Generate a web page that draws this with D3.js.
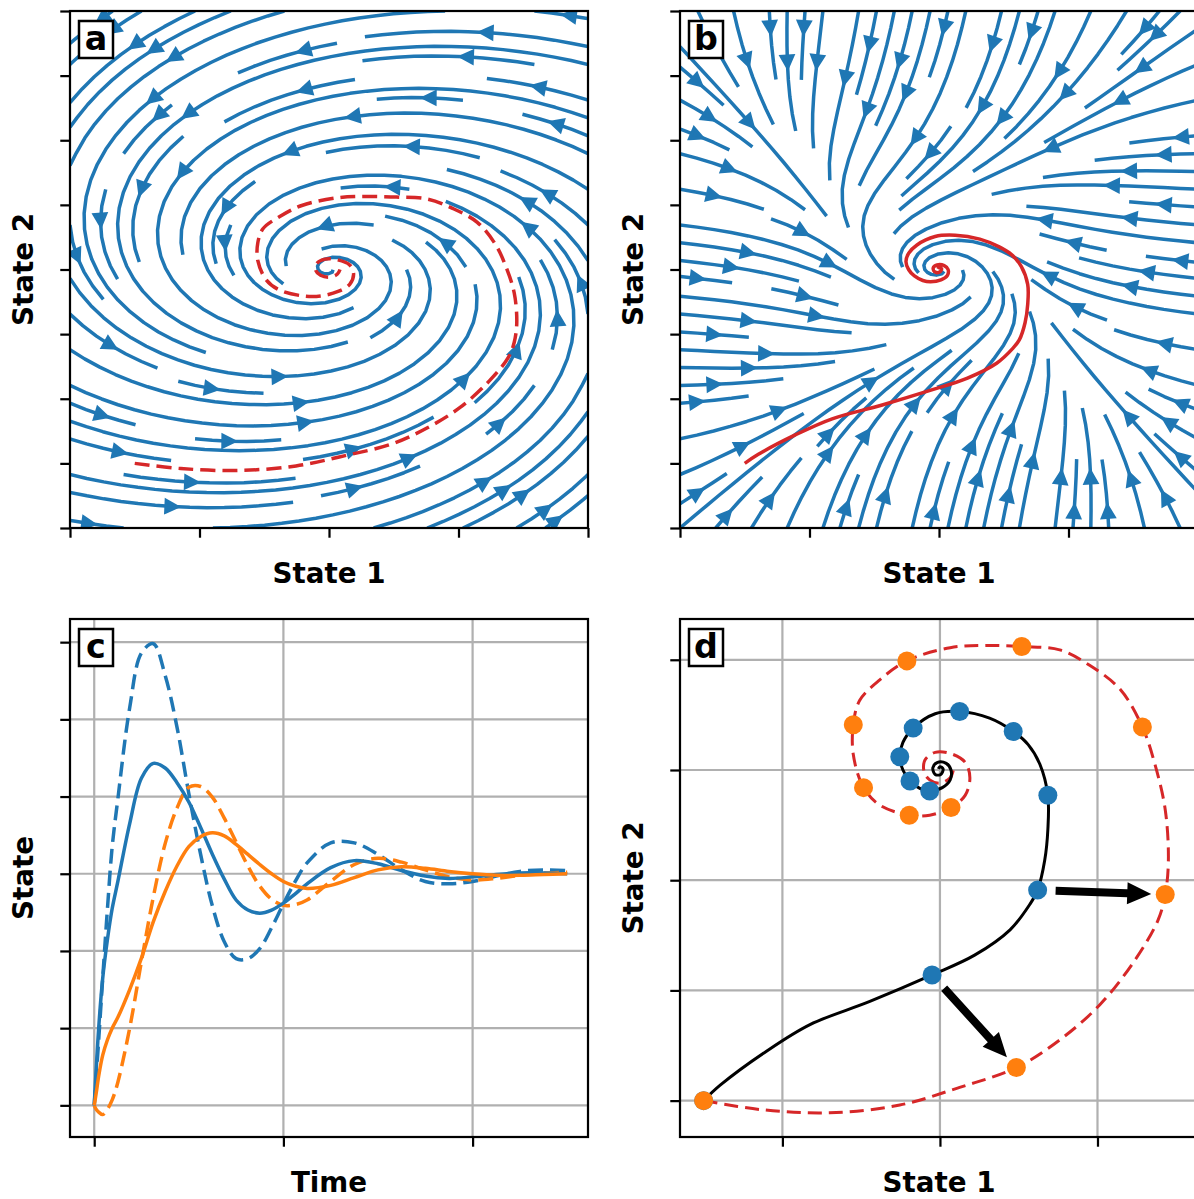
<!DOCTYPE html>
<html>
<head>
<meta charset="utf-8">
<script src="https://cdn.jsdelivr.net/npm/d3@7"></script>
<style>
  body { margin: 0; background: #fff; }
  svg { display: block; }
  text { font-family: "DejaVu Sans", sans-serif; }
</style>
</head>
<body>
<svg id="fig" width="1194" height="1199"></svg>
<script>
// ---------------- data ----------------
// Linear model  dx/dt = A x  (panel a)
const linearA = [[-0.257, -1.240], [0.508, -0.251]];
// True system: same linear part plus cubic damping on each state (panel b)
const cubicDamping = [0.30, 0.35];

const phaseTicksX = [-4, -2, 0, 2, 4];
const phaseTicksY = [-4, -3, -2, -1, 0, 1, 2, 3, 4];
const timeTicks = [0, 10, 20];
const stateTicks = [-3, -2, -1, 0, 1, 2, 3];
const stateTicksX = [-2, 0, 2];
const stateTicksY = [-3, -2, -1, 0, 1];

// Time series (panel c)
const time = [0, 0.1, 0.25, 0.45, 0.7, 0.95, 1.25, 1.875, 2.5, 3.125, 3.75, 4.375, 5.0, 5.625, 6.25, 6.875, 7.5, 8.125, 8.75, 9.375, 10.0, 10.625, 11.25, 12.5, 13.75, 15, 16.25, 17.5, 18.75, 20, 21.25, 22.5, 23.75, 25];
const state1True = [-3.0, -2.55, -1.95, -1.35, -0.85, -0.45, -0.10, 0.65, 1.24, 1.43, 1.37, 1.18, 0.93, 0.60, 0.25, -0.07, -0.34, -0.47, -0.51, -0.47, -0.38, -0.26, -0.13, 0.08, 0.17, 0.13, 0.04, -0.03, -0.06, -0.04, -0.01, 0.01, 0.01, 0.0];
const state2True = [-3.0, -2.85, -2.6, -2.35, -2.15, -2.0, -1.86, -1.5, -1.09, -0.62, -0.23, 0.10, 0.35, 0.48, 0.53, 0.49, 0.38, 0.25, 0.12, 0.0, -0.10, -0.16, -0.19, -0.15, -0.05, 0.05, 0.09, 0.07, 0.03, 0.0, -0.02, -0.02, -0.01, 0.0];
const state1Model = [-3.0, -2.65, -2.1, -1.35, -0.45, 0.35, 0.97, 2.15, 2.86, 2.98, 2.57, 1.9, 1.04, 0.25, -0.42, -0.88, -1.10, -1.10, -0.97, -0.70, -0.39, -0.10, 0.14, 0.40, 0.40, 0.25, 0.05, -0.10, -0.13, -0.10, -0.03, 0.03, 0.05, 0.04];
const state2Model = [-3.0, -3.05, -3.09, -3.12, -3.05, -2.93, -2.70, -2.0, -1.13, -0.30, 0.39, 0.85, 1.12, 1.13, 0.99, 0.72, 0.41, 0.10, -0.16, -0.33, -0.41, -0.40, -0.34, -0.10, 0.12, 0.20, 0.15, 0.05, -0.04, -0.08, -0.06, -0.02, 0.01, 0.02];

// Phase-plane trajectories (panels a, b, d)
const truePathX = [-3, -2.79, -2.22, -1.65, -0.89, -0.10, 0.44, 0.89, 1.14, 1.24, 1.33, 1.37, 1.37, 1.27, 1.12, 0.93, 0.63, 0.25, -0.06, -0.34, -0.47, -0.51, -0.47, -0.38, -0.25, -0.13, 0.03, 0.13, 0.14, 0.08, -0.03, -0.09, -0.06, 0.01, 0.04, 0.0, -0.02];
const truePathY = [-3, -2.86, -2.56, -2.31, -2.10, -1.86, -1.68, -1.45, -1.22, -1.09, -0.82, -0.54, -0.23, 0.05, 0.23, 0.35, 0.47, 0.53, 0.51, 0.38, 0.25, 0.12, 0.0, -0.10, -0.17, -0.19, -0.16, -0.09, 0.0, 0.06, 0.07, 0.02, -0.04, -0.04, 0.01, 0.03, 0.01];
const modelPathX = [-3, -2.29, -1.40, -0.51, 0.25, 0.97, 1.52, 2.03, 2.48, 2.77, 2.86, 2.90, 2.86, 2.73, 2.57, 2.29, 1.90, 1.52, 1.04, 0.57, 0.13, -0.42, -0.76, -1.02, -1.10, -1.10, -0.97, -0.76, -0.39, -0.13, 0.14, 0.32, 0.38, 0.32, 0.13, -0.06, -0.19, -0.20, -0.13, 0.0, 0.13, 0.17];
const modelPathY = [-3, -3.08, -3.11, -3.04, -2.88, -2.70, -2.45, -2.13, -1.72, -1.36, -1.13, -0.82, -0.36, 0.05, 0.39, 0.73, 0.95, 1.09, 1.12, 1.13, 1.11, 0.99, 0.82, 0.63, 0.41, 0.14, -0.16, -0.32, -0.41, -0.41, -0.34, -0.23, -0.07, 0.07, 0.15, 0.16, 0.09, -0.02, -0.09, -0.12, -0.07, 0.0];
const trueDotsX = [-3, -0.10, 1.24, 1.37, 0.93, 0.25, -0.34, -0.51, -0.38, -0.13];
const trueDotsY = [-3, -1.86, -1.09, -0.23, 0.35, 0.53, 0.38, 0.12, -0.10, -0.19];
const modelDotsX = [-3, 0.97, 2.86, 2.57, 1.04, -0.42, -1.10, -0.97, -0.39, 0.14];
const modelDotsY = [-3, -2.70, -1.13, 0.39, 1.12, 0.99, 0.41, -0.16, -0.41, -0.34];
const errorArrowSteps = [1, 2];

// ---------------- styling ----------------
const BLUE = "#1f77b4", ORANGE = "#ff7f0e", RED = "#d62728";
const PT = 200 / 72;                 // pixels per point
const SPINE_W = 0.8 * PT;
const TICK_LEN = 3.5 * PT;
const STREAM_W = 3.5;
const LABEL_SIZE = 10 * PT;
const LETTER_SIZE = 12 * PT;

const svg = d3.select("#fig");

const panels = {
  a: { x: 70, y: 11, w: 518, h: 517 },
  b: { x: 680, y: 11, w: 518, h: 517 },
  c: { x: 70, y: 619, w: 518, h: 518 },
  d: { x: 680, y: 619, w: 518, h: 518 }
};

function makeAxes(key, xDom, yDom) {
  const p = panels[key];
  const x = d3.scaleLinear().domain(xDom).range([p.x, p.x + p.w]);
  const y = d3.scaleLinear().domain(yDom).range([p.y + p.h, p.y]);
  const g = svg.append("g");
  svg.append("clipPath").attr("id", "clip-" + key)
    .append("rect").attr("x", p.x).attr("y", p.y).attr("width", p.w).attr("height", p.h);
  const plot = g.append("g").attr("clip-path", `url(#clip-${key})`);
  return { p, x, y, g, plot };
}

function drawFrame(ax, xTicks, yTicks, xLabel, yLabel, letter, grid) {
  const { p, x, y, g } = ax;
  if (grid) {
    const gg = ax.plot.insert("g", ":first-child");
    xTicks.forEach(t => gg.append("line").attr("x1", x(t)).attr("x2", x(t)).attr("y1", p.y).attr("y2", p.y + p.h)
      .attr("stroke", "#b0b0b0").attr("stroke-width", SPINE_W));
    yTicks.forEach(t => gg.append("line").attr("y1", y(t)).attr("y2", y(t)).attr("x1", p.x).attr("x2", p.x + p.w)
      .attr("stroke", "#b0b0b0").attr("stroke-width", SPINE_W));
  }
  const xAxis = d3.axisBottom(x).tickValues(xTicks).tickSize(TICK_LEN).tickFormat("");
  const yAxis = d3.axisLeft(y).tickValues(yTicks).tickSize(TICK_LEN).tickFormat("");
  const xa = g.append("g").attr("transform", `translate(0,${p.y + p.h})`).call(xAxis);
  const ya = g.append("g").attr("transform", `translate(${p.x},0)`).call(yAxis);
  [xa, ya].forEach(a => {
    a.select(".domain").remove();
    a.selectAll(".tick line").attr("stroke", "#000").attr("stroke-width", SPINE_W);
  });
  g.append("rect").attr("x", p.x).attr("y", p.y).attr("width", p.w).attr("height", p.h)
    .attr("fill", "none").attr("stroke", "#000").attr("stroke-width", SPINE_W);
  g.append("text").attr("x", p.x + p.w / 2).attr("y", p.y + p.h + 55)
    .attr("text-anchor", "middle").attr("font-weight", "bold").attr("font-size", LABEL_SIZE).text(xLabel);
  g.append("text").attr("transform", `translate(${p.x - 37},${p.y + p.h / 2}) rotate(-90)`)
    .attr("text-anchor", "middle").attr("font-weight", "bold").attr("font-size", LABEL_SIZE).text(yLabel);
  // panel letter in a boxed label
  const lb = g.append("g");
  lb.append("rect").attr("x", p.x + 9).attr("y", p.y + 10).attr("width", 34).attr("height", 37)
    .attr("fill", "#fff").attr("stroke", "#000").attr("stroke-width", 2.5);
  lb.append("text").attr("x", p.x + 26).attr("y", p.y + 39)
    .attr("text-anchor", "middle").attr("font-weight", "bold").attr("font-size", LETTER_SIZE).text(letter);
}

// ---------------- streamline integration (density-mask scheme) ----------------
function streamlines(field, xDom, yDom, density) {
  const nx = Math.floor(30 * density), ny = nx;
  const mask = new Uint8Array(nx * ny);
  const W = xDom[1] - xDom[0], H = yDom[1] - yDom[0];
  const OOB = { k: "oob" }, TERM = { k: "term" };
  const maxds = Math.min(1 / nx, 1 / ny, 0.1), maxerror = 0.003;
  const minlength = 0.1, maxlength = 4.0;
  const inside = (x, y) => x >= 0 && x <= 1 && y >= 0 && y <= 1;
  const toMask = (x, y) => [Math.round(x * (nx - 1)), Math.round(y * (ny - 1))];
  let traj = [], cur = null;

  function vel(x, y, sign) {
    if (!inside(x, y)) throw OOB;
    const [u, v] = field(xDom[0] + x * W, yDom[0] + y * H);
    const ua = u / W, va = v / H, s = Math.hypot(ua, va);
    if (s === 0) throw TERM;
    return [sign * ua / s, sign * va / s];
  }
  function update(x, y) {
    if (!inside(x, y)) return false;
    const [xm, ym] = toMask(x, y);
    if (cur && cur[0] === xm && cur[1] === ym) return true;
    const k = ym * nx + xm;
    if (mask[k]) return false;
    mask[k] = 1; traj.push(k); cur = [xm, ym];
    return true;
  }
  function euler(pts, sign) {
    const [xi, yi] = pts[pts.length - 1];
    const [cx, cy] = vel(xi, yi, sign);
    const dsx = cx === 0 ? Infinity : (cx < 0 ? xi / -cx : (1 - xi) / cx);
    const dsy = cy === 0 ? Infinity : (cy < 0 ? yi / -cy : (1 - yi) / cy);
    const ds = Math.min(dsx, dsy);
    pts.push([xi + cx * ds, yi + cy * ds]);
    return ds;
  }
  function rk12(x0, y0, sign) {
    let ds = maxds, stotal = 0, xi = x0, yi = y0;
    const pts = [];
    while (true) {
      let k1, k2;
      try {
        if (inside(xi, yi)) pts.push([xi, yi]); else throw OOB;
        k1 = vel(xi, yi, sign);
        k2 = vel(xi + ds * k1[0], yi + ds * k1[1], sign);
      } catch (e) {
        if (e === OOB && pts.length) stotal += euler(pts, sign);
        break;
      }
      const dx1 = ds * k1[0], dy1 = ds * k1[1];
      const dx2 = ds * 0.5 * (k1[0] + k2[0]), dy2 = ds * 0.5 * (k1[1] + k2[1]);
      const err = Math.hypot(dx2 - dx1, dy2 - dy1);
      if (err < maxerror) {
        xi += dx2; yi += dy2;
        if (!update(xi, yi)) break;
        if (stotal + ds > maxlength) break;
        stotal += ds;
      }
      ds = err === 0 ? maxds : Math.min(maxds, 0.85 * ds * Math.sqrt(maxerror / err));
    }
    return [stotal, pts];
  }
  function integrate(x0, y0) {
    traj = []; cur = null;
    if (!update(x0, y0)) return null;
    const [sb, back] = rk12(x0, y0, -1);
    cur = toMask(x0, y0);
    const [sf, fwd] = rk12(x0, y0, 1);
    if (sb + sf > minlength) return back.reverse().concat(fwd.slice(1));
    traj.forEach(k => { mask[k] = 0; });
    return null;
  }
  // seeds spiral inward from the outer boundary of the mask
  const seeds = [];
  {
    let xfirst = 0, yfirst = 1, xlast = nx - 1, ylast = ny - 1, x = 0, y = 0, dir = "right";
    for (let i = 0; i < nx * ny; i++) {
      seeds.push([x, y]);
      if (dir === "right") { x += 1; if (x >= xlast) { xlast -= 1; dir = "up"; } }
      else if (dir === "up") { y += 1; if (y >= ylast) { ylast -= 1; dir = "left"; } }
      else if (dir === "left") { x -= 1; if (x <= xfirst) { xfirst += 1; dir = "down"; } }
      else { y -= 1; if (y <= yfirst) { yfirst += 1; dir = "right"; } }
    }
  }
  const lines = [];
  for (const [xm, ym] of seeds) {
    if (mask[ym * nx + xm] !== 0) continue;
    const t = integrate(xm / (nx - 1), ym / (ny - 1));
    if (t) lines.push(t.map(([a, b]) => [xDom[0] + a * W, yDom[0] + b * H]));
  }
  return lines;
}

function drawStreams(ax, lines, color) {
  const ms = 10 * PT, hl = 0.4 * ms, hw = 0.2 * ms;
  const hd = Math.hypot(hl, hw), sinT = hw / hd;
  const line = d3.line().x(d => ax.x(d[0])).y(d => ax.y(d[1]));
  const g = ax.plot.append("g");
  lines.forEach(pts => {
    g.append("path").attr("d", line(pts)).attr("fill", "none")
      .attr("stroke", color).attr("stroke-width", STREAM_W).attr("stroke-linejoin", "round");
  });
  lines.forEach(pts => {
    const s = [];
    let acc = 0;
    for (let i = 1; i < pts.length; i++) {
      acc += Math.hypot(pts[i][0] - pts[i - 1][0], pts[i][1] - pts[i - 1][1]);
      s.push(acc);
    }
    let n = d3.bisectLeft(s, acc / 2);
    n = Math.min(n, pts.length - 2);
    const tail = [ax.x(pts[n][0]), ax.y(pts[n][1])];
    const head = [ax.x((pts[n][0] + pts[n + 1][0]) / 2), ax.y((pts[n][1] + pts[n + 1][1]) / 2)];
    let dx = head[0] - tail[0], dy = head[1] - tail[1];
    const L = Math.hypot(dx, dy);
    if (L === 0) return;
    dx /= L; dy /= L;
    const pad = 0.5 * STREAM_W / sinT;
    const tip = [head[0] - dx * pad, head[1] - dy * pad];
    const base = [tip[0] - dx * hl, tip[1] - dy * hl];
    const pts3 = [[base[0] - dy * hw, base[1] + dx * hw], tip, [base[0] + dy * hw, base[1] - dx * hw]];
    g.append("path").attr("d", "M" + pts3.map(q => q.join(",")).join("L") + "Z")
      .attr("fill", color).attr("stroke", color).attr("stroke-width", STREAM_W)
      .attr("stroke-linejoin", "miter").attr("stroke-miterlimit", 10);
  });
}

const linearField = (x, y) => [linearA[0][0] * x + linearA[0][1] * y, linearA[1][0] * x + linearA[1][1] * y];
const trueField = (x, y) => {
  const [u, v] = linearField(x, y);
  return [u - cubicDamping[0] * x * x * x, v - cubicDamping[1] * y * y * y];
};

const zip = (xs, ys) => xs.map((v, i) => [v, ys[i]]);
const smooth = d3.curveCatmullRom.alpha(0.5);

// ---------------- panel a ----------------
{
  const ax = makeAxes("a", [-4, 4], [-4, 4]);
  drawStreams(ax, streamlines(linearField, [-4, 4], [-4, 4], 1), BLUE);
  ax.plot.append("path").attr("d", d3.line().curve(smooth).x(d => ax.x(d[0])).y(d => ax.y(d[1]))(zip(modelPathX, modelPathY)))
    .attr("fill", "none").attr("stroke", RED).attr("stroke-width", 3.5).attr("stroke-dasharray", "15,7");
  drawFrame(ax, phaseTicksX, phaseTicksY, "State 1", "State 2", "a", false);
}
// ---------------- panel b ----------------
{
  const ax = makeAxes("b", [-4, 4], [-4, 4]);
  drawStreams(ax, streamlines(trueField, [-4, 4], [-4, 4], 1), BLUE);
  ax.plot.append("path").attr("d", d3.line().curve(smooth).x(d => ax.x(d[0])).y(d => ax.y(d[1]))(zip(truePathX, truePathY)))
    .attr("fill", "none").attr("stroke", RED).attr("stroke-width", 3.5);
  drawFrame(ax, phaseTicksX, phaseTicksY, "State 1", "State 2", "b", false);
}
// ---------------- panel c ----------------
{
  const ax = makeAxes("c", [-1.28, 26.1], [-3.41, 3.30]);
  const ln = d3.line().curve(d3.curveCatmullRom.alpha(0.5)).x(d => ax.x(d[0])).y(d => ax.y(d[1]));
  const series = [
    [state1Model, BLUE, true], [state2Model, ORANGE, true],
    [state1True, BLUE, false], [state2True, ORANGE, false]
  ];
  series.forEach(([vals, col, dashed]) => {
    ax.plot.append("path").attr("d", ln(zip(time, vals))).attr("fill", "none")
      .attr("stroke", col).attr("stroke-width", 3.5).attr("stroke-dasharray", dashed ? "15,7" : null);
  });
  drawFrame(ax, timeTicks, stateTicks, "Time", "State", "c", true);
}
// ---------------- panel d ----------------
{
  const ax = makeAxes("d", [-3.30, 3.276], [-3.33, 1.37]);
  const ln = d3.line().curve(smooth).x(d => ax.x(d[0])).y(d => ax.y(d[1]));
  ax.plot.append("path").attr("d", ln(zip(modelPathX, modelPathY))).attr("fill", "none")
    .attr("stroke", RED).attr("stroke-width", 3).attr("stroke-dasharray", "14,7");
  ax.plot.append("path").attr("d", ln(zip(truePathX, truePathY))).attr("fill", "none")
    .attr("stroke", "#000").attr("stroke-width", 3);
  zip(trueDotsX, trueDotsY).forEach(([a, b]) => ax.plot.append("circle").attr("cx", ax.x(a)).attr("cy", ax.y(b)).attr("r", 9.5).attr("fill", BLUE));
  zip(modelDotsX, modelDotsY).forEach(([a, b]) => ax.plot.append("circle").attr("cx", ax.x(a)).attr("cy", ax.y(b)).attr("r", 9.5).attr("fill", ORANGE));
  // arrows from the true state to the model state
  errorArrowSteps.forEach(k => {
    const p0 = [ax.x(trueDotsX[k]), ax.y(trueDotsY[k])];
    const p1 = [ax.x(modelDotsX[k]), ax.y(modelDotsY[k])];
    let dx = p1[0] - p0[0], dy = p1[1] - p0[1];
    const L = Math.hypot(dx, dy); dx /= L; dy /= L;
    const s = [p0[0] + dx * 18, p0[1] + dy * 18], e = [p1[0] - dx * 14, p1[1] - dy * 14];
    const hl = 24, hw = 11, sw = 4;
    const b = [e[0] - dx * hl, e[1] - dy * hl];
    const poly = [
      [s[0] - dy * sw, s[1] + dx * sw], [b[0] - dy * sw, b[1] + dx * sw], [b[0] - dy * hw, b[1] + dx * hw], e,
      [b[0] + dy * hw, b[1] - dx * hw], [b[0] + dy * sw, b[1] - dx * sw], [s[0] + dy * sw, s[1] - dx * sw]
    ];
    ax.plot.append("path").attr("d", "M" + poly.map(q => q.join(",")).join("L") + "Z").attr("fill", "#000");
  });
  drawFrame(ax, stateTicksX, stateTicksY, "State 1", "State 2", "d", true);
}
</script>
</body>
</html>
